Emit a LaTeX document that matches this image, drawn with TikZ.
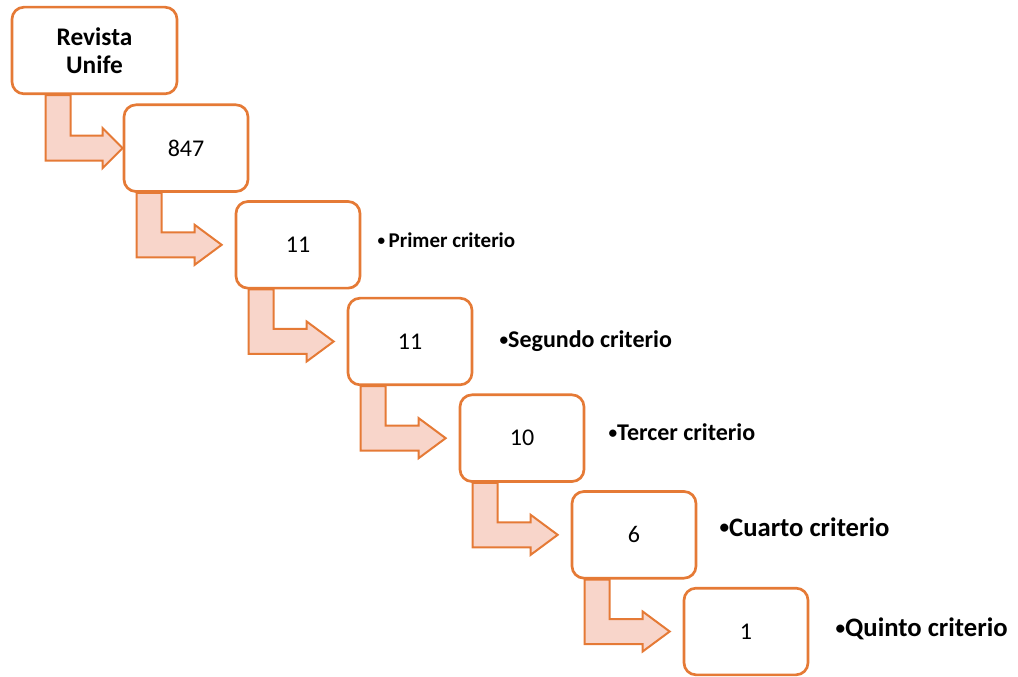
\documentclass[tikz,border=0pt]{standalone}
\usepackage{fontspec}
\setmainfont{Carlito}
\usetikzlibrary{positioning,calc}
\definecolor{colorLine}{HTML}{E57A36}
\definecolor{colorFill}{HTML}{F8D5CA}
\newcommand{\critBullet}{\raisebox{0.09em}{\scalebox{0.72}{•}}}
\newcommand{\bentArrow}[5]{%
  \draw[flow] ($(#1.south west)+(#3,0)$) coordinate (stem) -- ++(25,0)
    |- ($(#2.west)+(-#4-#5,-12.5)$) -- ++(0,-7.5) -- ($(#2.west)+(-#4,0)$)
    -- ++(-#5,20) -- ++(0,-7.5) -| (stem) -- cycle;}

\begin{document}
\begin{tikzpicture}[x=0.75pt,y=-0.75pt,node distance=5.5pt and -11pt,box/.style={draw=colorLine, line width=2pt, rounded corners=9pt, fill=white, minimum width=93pt, minimum height=65pt, font=\fontsize{18}{21}\selectfont},flow/.style={draw=colorLine, fill=colorFill, line width=1.5pt, line join=miter},crit/.style={anchor=base west, inner sep=0pt},]
    \useasboundingbox (0,0) rectangle (1018,677);
    \node [box, minimum width=123.75pt, align=center, font=\fontsize{19}{21}\selectfont\bfseries] (unife) at (94.5,50.5) {Revista\\Unife};
    \node [box, below right=6.25pt and -41.75pt of unife] (n847) {847};
    \node [box, below right=of n847] (n11a) {11};
    \node [box, below right=of n11a] (n11b) {11};
    \node [box, below right=of n11b] (n10) {10};
    \node [box, below right=of n10] (n6) {6};
    \node [box, below right=of n6] (n1) {1};
    \bentArrow{unife}{n847}{35}{0}{20}
    \bentArrow{n847}{n11a}{14}{13}{27}
    \bentArrow{n11a}{n11b}{14}{13}{27}
    \bentArrow{n11b}{n10}{14}{13}{27}
    \bentArrow{n10}{n6}{14}{13}{27}
    \bentArrow{n6}{n1}{14}{13}{27}
    \node [crit, font=\fontsize{15.75}{18}\selectfont\bfseries] (primer) at ($(n11a.east)+(16,3)$) {\critBullet\,Primer criterio};
    \node [crit, font=\fontsize{18}{21}\selectfont\bfseries] (segundo) at ($(n11b.east)+(26,6)$) {\critBullet Segundo criterio};
    \node [crit, font=\fontsize{18}{21}\selectfont\bfseries] (tercer) at ($(n10.east)+(23,2)$) {\critBullet Tercer criterio};
    \node [crit, font=\fontsize{20}{24}\selectfont\bfseries] (cuarto) at ($(n6.east)+(22,1.5)$) {\critBullet Cuarto criterio};
    \node [crit, font=\fontsize{20}{24}\selectfont\bfseries] (quinto) at ($(n1.east)+(26,5)$) {\critBullet Quinto criterio};
\end{tikzpicture}
\end{document}
